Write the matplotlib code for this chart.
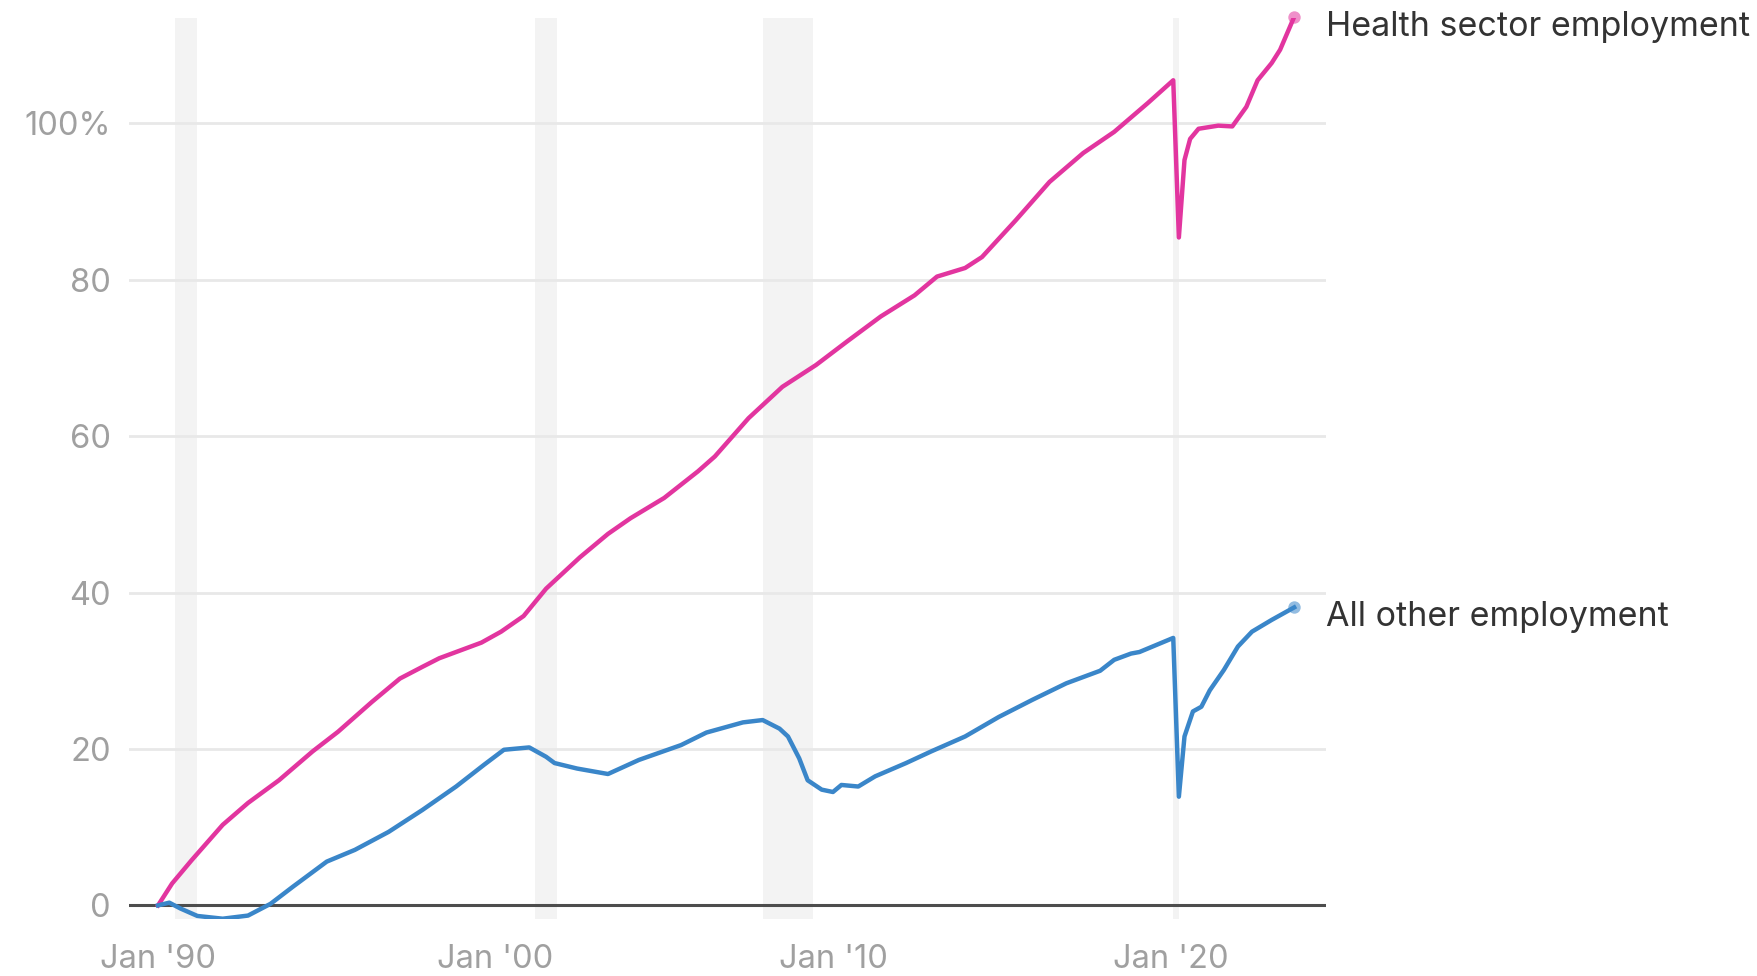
import matplotlib
matplotlib.use("Agg")
import matplotlib.pyplot as plt

plt.rcParams["font.family"] = ["Inter", "DejaVu Sans"]

# Percent change in employment since Jan 1990
health_dates = [
    "1990-01", "1990-06", "1991-01", "1991-12", "1992-09", "1993-08", "1994-08",
    "1995-05", "1996-05", "1997-03", "1997-11", "1998-05", "1998-11", "1999-08",
    "2000-03", "2000-11", "2001-07", "2002-07", "2003-05", "2004-01", "2005-01",
    "2006-01", "2006-07", "2007-07", "2008-07", "2009-07", "2010-06", "2011-06",
    "2012-06", "2013-02", "2013-12", "2014-06", "2015-06", "2016-06", "2017-06",
    "2018-05", "2019-05", "2020-02", "2020-04", "2020-06", "2020-08", "2020-11",
    "2021-06", "2021-11", "2022-04", "2022-08", "2023-01", "2023-04", "2023-09",
]
health_values = [
    0.0, 2.8, 5.8, 10.3, 13.1, 16.0, 19.7,
    22.2, 26.0, 29.0, 30.5, 31.6, 32.4, 33.6,
    35.0, 37.0, 40.5, 44.5, 47.5, 49.5, 52.1,
    55.5, 57.4, 62.3, 66.3, 69.1, 72.1, 75.3,
    78.0, 80.4, 81.5, 82.9, 87.6, 92.5, 96.2,
    98.9, 102.6, 105.5, 85.4, 95.3, 98.0, 99.3,
    99.7, 99.6, 102.1, 105.5, 107.7, 109.4, 113.6,
]

other_dates = [
    "1990-01", "1990-05", "1990-09", "1991-03", "1991-12", "1992-09", "1993-05",
    "1994-01", "1995-01", "1995-11", "1996-11", "1997-11", "1998-11", "1999-09",
    "2000-04", "2001-01", "2001-07", "2001-10", "2002-06", "2003-05", "2004-04",
    "2005-07", "2006-04", "2007-05", "2007-12", "2008-06", "2008-09", "2009-01",
    "2009-04", "2009-09", "2010-01", "2010-04", "2010-10", "2011-04", "2012-03",
    "2012-12", "2013-12", "2014-12", "2015-12", "2016-12", "2017-12", "2018-05",
    "2018-11", "2019-02", "2020-02", "2020-04", "2020-06", "2020-09", "2020-12",
    "2021-03", "2021-08", "2022-01", "2022-06", "2023-01", "2023-09",
]
other_values = [
    0.0, 0.35, -0.4, -1.35, -1.7, -1.3, 0.2,
    2.4, 5.6, 7.1, 9.4, 12.2, 15.2, 18.0,
    19.9, 20.2, 19.0, 18.2, 17.5, 16.8, 18.6,
    20.5, 22.1, 23.4, 23.7, 22.6, 21.6, 18.8,
    16.0, 14.8, 14.5, 15.4, 15.2, 16.5, 18.2,
    19.7, 21.6, 24.1, 26.3, 28.4, 30.0, 31.4,
    32.2, 32.4, 34.2, 13.9, 21.6, 24.8, 25.4,
    27.5, 30.1, 33.1, 35.0, 36.5, 38.1,
]

# Recessions (shaded)
recession_starts = ["1990-07", "2001-03", "2007-12", "2020-02"]
recession_ends = ["1991-03", "2001-11", "2009-06", "2020-04"]

tick_years = [1990, 2000, 2010, 2020]
tick_labels = ["Jan '90", "Jan '00", "Jan '10", "Jan '20"]
y_ticks = [0, 20, 40, 60, 80, 100]
y_labels = ["0", "20", "40", "60", "80", "100%"]


def to_year(s):
    y, m = s.split("-")
    return int(y) + (int(m) - 1) / 12


PINK = "#e2359f"
BLUE = "#3a86c9"

W, H = 1757, 976
fig = plt.figure(figsize=(W / 100, H / 100), dpi=100)
ax = fig.add_axes([129 / W, 1 - 918.7 / H, (1326 - 129) / W, (918.7 - 17.7) / H])

for s, e in zip(recession_starts, recession_ends):
    ax.axvspan(to_year(s), to_year(e), color="#f3f3f3", lw=0, zorder=0)

for v in y_ticks[1:]:
    ax.axhline(v, color="#e8e8e8", lw=2, zorder=1)
ax.axhline(0, color="#4d4d4d", lw=2.2, zorder=2)

hx = [to_year(d) for d in health_dates]
ox = [to_year(d) for d in other_dates]
ax.plot(hx, health_values, color=PINK, lw=3.2, zorder=3, solid_joinstyle="round")
ax.plot(ox, other_values, color=BLUE, lw=3.2, zorder=3, solid_joinstyle="round")
ax.scatter([hx[-1]], [health_values[-1]], s=80, color=PINK, alpha=0.55,
           lw=0, zorder=4, clip_on=False)
ax.scatter([ox[-1]], [other_values[-1]], s=80, color=BLUE, alpha=0.55,
           lw=0, zorder=4, clip_on=False)

for val, label in [(health_values[-1], "Health sector employment"),
                   (other_values[-1], "All other employment")]:
    ax.annotate(label, xy=(1.0, val), xycoords=ax.get_yaxis_transform(),
                xytext=(0, -13.7), textcoords="offset points",
                ha="left", va="baseline", fontsize=24.5, color="#333333",
                annotation_clip=False)

ax.set_xlim(1989.14, 2024.61)
ax.set_ylim(-1.7, 113.5)
ax.set_xticks(tick_years)
ax.set_xticklabels(tick_labels)
ax.set_yticks(y_ticks)
ax.set_yticklabels(y_labels)
ax.tick_params(axis="both", length=0, labelsize=23.5, labelcolor="#a0a0a0")
ax.tick_params(axis="x", pad=18)
ax.tick_params(axis="y", pad=13)
for sp in ax.spines.values():
    sp.set_visible(False)

fig.savefig("out.png", dpi=100)
